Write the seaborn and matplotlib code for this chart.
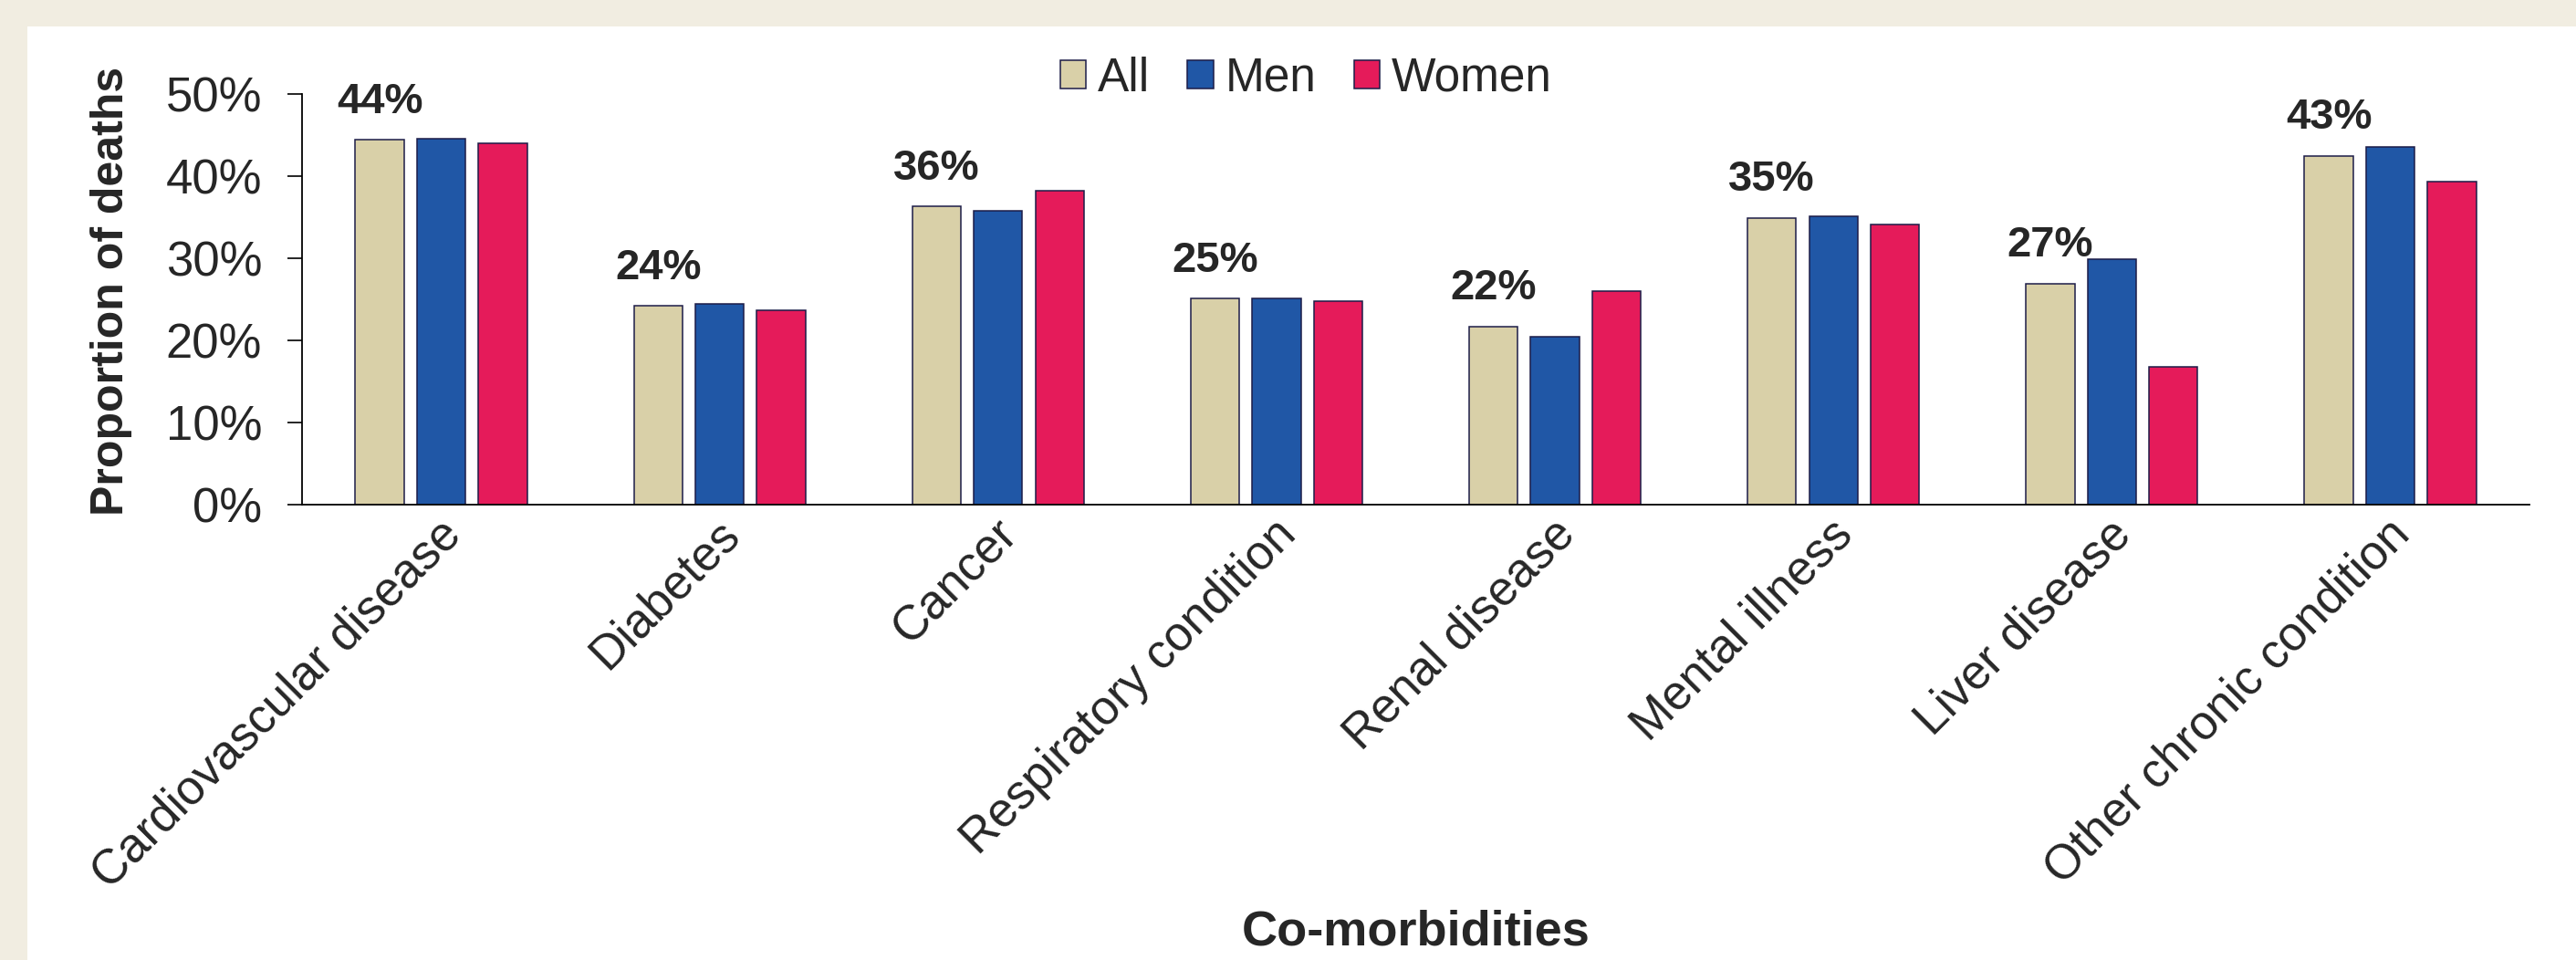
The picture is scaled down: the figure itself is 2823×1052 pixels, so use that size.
import matplotlib
matplotlib.use('Agg')
import matplotlib.pyplot as plt
import matplotlib.transforms as mtransforms
from matplotlib.patches import Rectangle
import pandas as pd
import seaborn as sns

# values (fraction of deaths)
categories = ['Cardiovascular disease', 'Diabetes', 'Cancer', 'Respiratory condition',
              'Renal disease', 'Mental illness', 'Liver disease', 'Other chronic condition']
all_vals = [0.444, 0.242, 0.363, 0.251, 0.217, 0.349, 0.269, 0.425]
men_vals = [0.446, 0.244, 0.358, 0.251, 0.204, 0.351, 0.299, 0.436]
women_vals = [0.440, 0.237, 0.382, 0.248, 0.260, 0.341, 0.168, 0.393]
all_labels = ['44%', '24%', '36%', '25%', '22%', '35%', '27%', '43%']
groups = ['All', 'Men', 'Women']
yticks = [0, 0.1, 0.2, 0.3, 0.4, 0.5]
ytick_labels = ['0%', '10%', '20%', '30%', '40%', '50%']

df = pd.DataFrame({
    'category': categories * 3,
    'group': ['All'] * 8 + ['Men'] * 8 + ['Women'] * 8,
    'value': all_vals + men_vals + women_vals,
})

sns.set_style('white')
plt.rcParams['font.family'] = ['Liberation Sans', 'DejaVu Sans']

fig = plt.figure(figsize=(28.23, 10.52), dpi=100)
fig.patch.set_facecolor('#F1EDE1')
fig.patches.append(Rectangle((30 / 2823, 0), 1, 1 - 29 / 1052, transform=fig.transFigure,
                             facecolor='white', edgecolor='none', zorder=-10))

ax = fig.add_axes([331 / 2823, 1 - 553 / 1052, (2772 - 331) / 2823, 450 / 1052])
ax.set_facecolor('none')

palette = {'All': '#D9D0A8', 'Men': '#2057A6', 'Women': '#E51B5A'}
sns.barplot(data=df, x='category', y='value', hue='group', hue_order=groups,
            palette=palette, width=0.663, gap=0.21, edgecolor='#1C1C48',
            linewidth=1.1, saturation=1, errorbar=None, ax=ax)

ax.bar_label(ax.containers[0], labels=all_labels, padding=14,
             fontsize=34, fontweight='bold')

ax.set_xlim(-0.5, 7.5)
ax.set_ylim(0, 0.5)
ax.set_yticks(yticks)
ax.set_yticklabels(ytick_labels)
ax.tick_params(axis='y', direction='out', length=11.5, width=1.2, pad=20,
               labelsize=38, left=True, color='black')
ax.tick_params(axis='x', length=0, pad=5, labelsize=38)
sns.despine(ax=ax)
for s in ['left', 'bottom']:
    ax.spines[s].set_color('black')
    ax.spines[s].set_linewidth(1.3)

offset = mtransforms.ScaledTranslation(-4 / 100, 0, fig.dpi_scale_trans)
for lab in ax.get_xticklabels():
    lab.set_rotation(45)
    lab.set_ha('right')
    lab.set_va('top')
    lab.set_rotation_mode('anchor')
    lab.set_transform(lab.get_transform() + offset)

ax.set_ylabel('Proportion of deaths', fontsize=36, fontweight='bold')
ax.yaxis.set_label_coords(-0.076, 0.52)
ax.set_xlabel('Co-morbidities', fontsize=39, fontweight='bold')
ax.xaxis.set_label_coords(0.5, -0.985)

handles, labels = ax.get_legend_handles_labels()
ax.legend(handles, labels, loc='center', bbox_to_anchor=(0.507, 0.918),
          bbox_transform=fig.transFigure, ncol=3, frameon=False, fontsize=37,
          handlelength=0.55, handleheight=0.55, handletextpad=0.25,
          columnspacing=0.8, borderpad=0)

fig.savefig('out.png', dpi=100, facecolor=fig.get_facecolor())
